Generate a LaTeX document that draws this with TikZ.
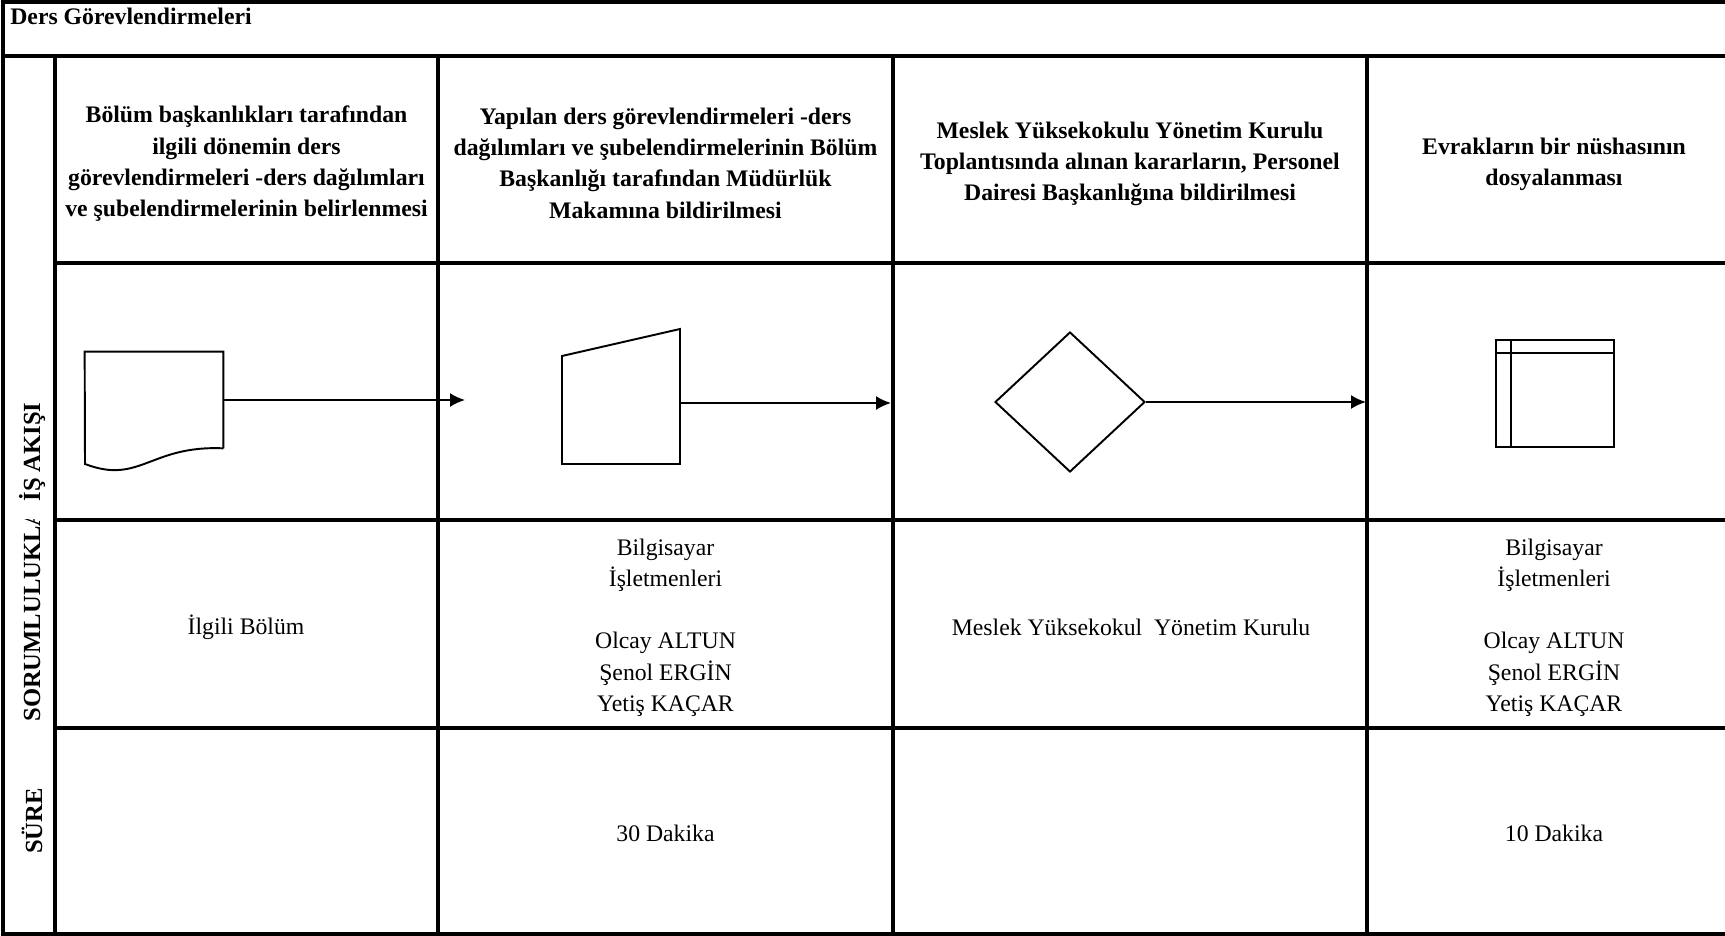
\documentclass[tikz,border=0pt]{standalone}
\usepackage{fontspec}
\setmainfont{Liberation Serif}
\usetikzlibrary{arrows.meta,positioning,shapes.geometric}

\begin{document}
\begin{tikzpicture}[x=0.02cm,y=-0.02cm,>=Latex,
  grid/.style={line width=2.6pt},
  head/.style={font=\bfseries\fontsize{13.5}{17.8}\selectfont,align=center,inner sep=0pt},
  cell/.style={font=\fontsize{13.5}{17.8}\selectfont,align=center,inner sep=0pt},
  side/.style={font=\bfseries\fontsize{14}{16}\selectfont,rotate=90,inner sep=0pt},
  outline/.style={line width=1.1pt},
  flow/.style={line width=1.1pt,-{Latex[length=3mm,width=2.8mm]}}]
\useasboundingbox (0,0) rectangle (1725,936);
% table lines
\draw[grid] (3,2) -- (1725,2);
\draw[grid] (3,56) -- (1725,56);
\draw[grid] (3,934) -- (1725,934);
\draw[grid] (3,0) -- (3,936);
\draw[grid] (55,56) -- (55,936);
\foreach \x in {438,893,1367}
  \draw[grid] (\x,56) -- (\x,936);
\foreach \y in {263,520,728}
  \draw[grid] (55,\y) -- (1725,\y);

% title and side labels
\node[head,anchor=base west] (title) at (10,25) {Ders Görevlendirmeleri};
\node[side] (isakisi) at (32,452) {İŞ AKIŞI};
\begin{scope}
\clip (5,519) rectangle (53,930);
\node[side,anchor=west] (sorum) at (32,722) {SORUMLULUKLAR};
\end{scope}
\node[side] (sure) at (32,821) {SÜRE};

% headings
\node[head] (h1) at (246.5,164) {Bölüm başkanlıkları tarafından\\ilgili dönemin ders\\görevlendirmeleri -ders dağılımları\\ve şubelendirmelerinin belirlenmesi};
\node[head] (h2) at (665.5,163) {Yapılan ders görevlendirmeleri -ders\\dağılımları ve şubelendirmelerinin Bölüm\\Başkanlığı tarafından Müdürlük\\Makamına bildirilmesi};
\node[head] (h3) at (1130,164) {Meslek Yüksekokulu Yönetim Kurulu\\Toplantısında alınan kararların, Personel\\Dairesi Başkanlığına bildirilmesi};
\node[head] (h4) at (1554,164) {Evrakların bir nüshasının\\dosyalanması};

% flow symbols
\node[inner sep=0pt,minimum width=2.76cm,minimum height=1.92cm] (doc) at (154,400) {};
\draw[outline] (doc.south east) -- (doc.north east) -- (doc.north west) -- (85,464)
  .. controls (140,485) and (150,445) .. (doc.south east);
\node[inner sep=0pt,minimum width=2.36cm,minimum height=2.44cm] (input) at (621,403) {};
\draw[outline] (562,356) -- (680,329) -- (680,464) -- (562,464) -- cycle;
\node[draw,outline,diamond,inner sep=0pt,minimum width=3cm,minimum height=2.8cm] (karar) at (1070,402) {};
\node[draw,outline,inner sep=0pt,minimum width=2.36cm,minimum height=2.14cm] (dosya) at (1555,393.5) {};
\draw[outline] (1511,340) -- (1511,447);
\draw[outline] (1496,353) -- (1614,353);

\coordinate (a1) at (465,400);
\coordinate (a2) at (891,403);
\coordinate (a3) at (1366,402);
\draw[flow] (doc.east) -- (a1);
\draw[flow] (input.east) -- (a2);
\draw[flow] (karar.east) -- (a3);

% responsibles
\node[cell] (r1) at (246,627) {İlgili Bölüm};
\node[cell] (r2) at (665.5,627.5) {Bilgisayar\\İşletmenleri\\[17.8pt]Olcay ALTUN\\Şenol ERGİN\\Yetiş KAÇAR};
\node[cell] (r3) at (1131,627) {Meslek Yüksekokul\ \ Yönetim Kurulu};
\node[cell] (r4) at (1554,627.5) {Bilgisayar\\İşletmenleri\\[17.8pt]Olcay ALTUN\\Şenol ERGİN\\Yetiş KAÇAR};

% durations
\node[cell] (s2) at (665.5,833) {30 Dakika};
\node[cell] (s4) at (1554,833) {10 Dakika};
\end{tikzpicture}
\end{document}
